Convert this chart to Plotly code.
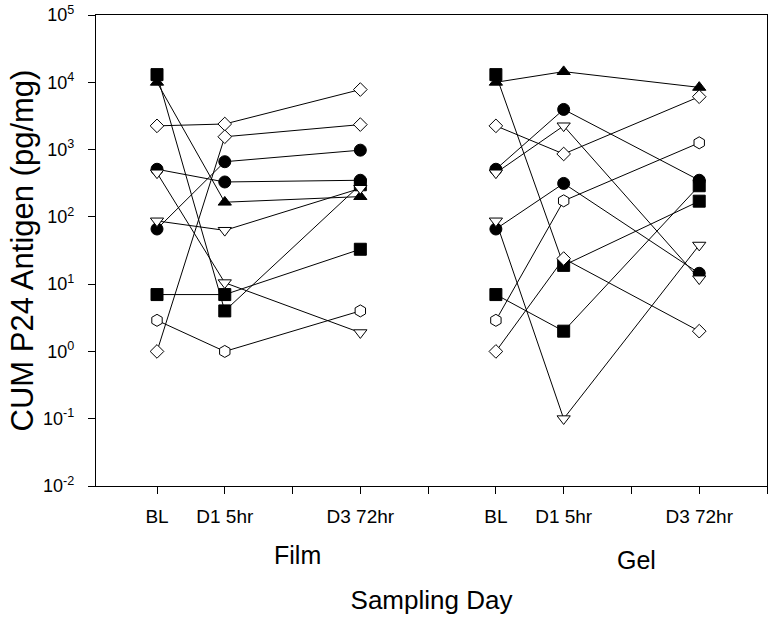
import plotly.graph_objects as go

# ---- data ----
film_x = [1, 2, 4]
gel_x = [6, 7, 9]
tick_vals = [1, 2, 3, 4, 5, 6, 7, 8, 9, 10]
tick_text = ["BL", "D1 5hr", "", "D3 72hr", "", "BL", "D1 5hr", "", "D3 72hr", ""]
y_tick_vals = [1e-2, 1e-1, 1e0, 1e1, 1e2, 1e3, 1e4, 1e5]
y_tick_text = ["10<sup>-2</sup>", "10<sup>-1</sup>", "10<sup>0</sup>", "10<sup>1</sup>",
               "10<sup>2</sup>", "10<sup>3</sup>", "10<sup>4</sup>", "10<sup>5</sup>"]

subjects = ["S1", "S2", "S3", "S4", "S5", "S6", "S7", "S8", "S9", "S10"]
symbols = ["square", "square", "triangle-up", "diamond", "diamond",
           "circle", "circle", "triangle-down", "triangle-down", "hexagon"]
filled = [True, True, True, False, False, True, True, False, False, False]

# values: [BL, D1 5hr, D3 72hr]
film_vals = [
    [13000, 4, 300],
    [7, 7, 33],
    [10000, 165, 200],
    [2250, 2400, 7800],
    [1, 1550, 2350],
    [510, 330, 350],
    [66, 660, 980],
    [450, 10.5, 1.9],
    [87, 63, 265],
    [2.9, 1, 4],
]
gel_vals = [
    [13000, 19, 171],
    [7, 2, 290],
    [10000, 14400, 8400],
    [2250, 860, 6100],
    [1, 24, 2],
    [510, 3950, 350],
    [66, 314, 14.5],
    [450, 2250, 12],
    [87, 0.1, 38],
    [2.9, 173, 1260],
]

sizes = {"square": 12, "circle": 12, "triangle-up": 11.5, "triangle-down": 11.5,
         "diamond": 10.5, "hexagon": 12}

fig = go.Figure()

# lines first
for xs, vals in ((film_x, film_vals), (gel_x, gel_vals)):
    for name, v in zip(subjects, vals):
        fig.add_trace(go.Scatter(x=xs, y=v, mode="lines", name=name,
                                 line=dict(color="black", width=1),
                                 showlegend=False, hoverinfo="skip"))
# markers on top
for xs, vals in ((film_x, film_vals), (gel_x, gel_vals)):
    for name, v, sym, f in zip(subjects, vals, symbols, filled):
        fig.add_trace(go.Scatter(
            x=xs, y=v, mode="markers", name=name, showlegend=False,
            marker=dict(symbol=sym, size=sizes[sym],
                        color="black" if f else "white",
                        line=dict(color="black", width=1))))

font_family = "Liberation Sans, Arial, sans-serif"

fig.update_layout(
    width=776, height=620,
    margin=dict(l=96, r=9, t=15, b=134, autoexpand=False),
    paper_bgcolor="white", plot_bgcolor="white",
    font=dict(family=font_family, color="black", size=18),
    xaxis=dict(range=[0.1, 10], tickvals=tick_vals, ticktext=tick_text,
               ticks="outside", ticklen=7, tickwidth=1, tickcolor="black",
               showline=True, linecolor="black", linewidth=1.3, mirror=True,
               showgrid=False, zeroline=False, automargin=False,
               ticklabelstandoff=6, tickfont=dict(size=19),
               title=dict(text="Sampling Day", font=dict(size=26), standoff=64)),
    yaxis=dict(type="log", range=[-2, 5], tickvals=y_tick_vals, ticktext=y_tick_text,
               ticks="outside", ticklen=7, tickwidth=1, tickcolor="black",
               showline=True, linecolor="black", linewidth=1.3, mirror=True,
               showgrid=False, zeroline=False, automargin=False,
               ticklabeloverflow="allow",
               ticklabelstandoff=10, tickfont=dict(size=18),
               title=dict(text="CUM P24 Antigen (pg/mg)", font=dict(size=31), standoff=0)),
    annotations=[
        dict(text="Film", x=3.08, xref="x", y=-0.1465, yref="paper",
             showarrow=False, font=dict(size=25), xanchor="center", yanchor="middle"),
        dict(text="Gel", x=8.08, xref="x", y=-0.157, yref="paper",
             showarrow=False, font=dict(size=25), xanchor="center", yanchor="middle"),
    ],
)

# remove the default page margin so the figure fills the window exactly
fig.write_html("out.html", config={"displayModeBar": False},
               post_script="document.body.style.margin='0px';")
